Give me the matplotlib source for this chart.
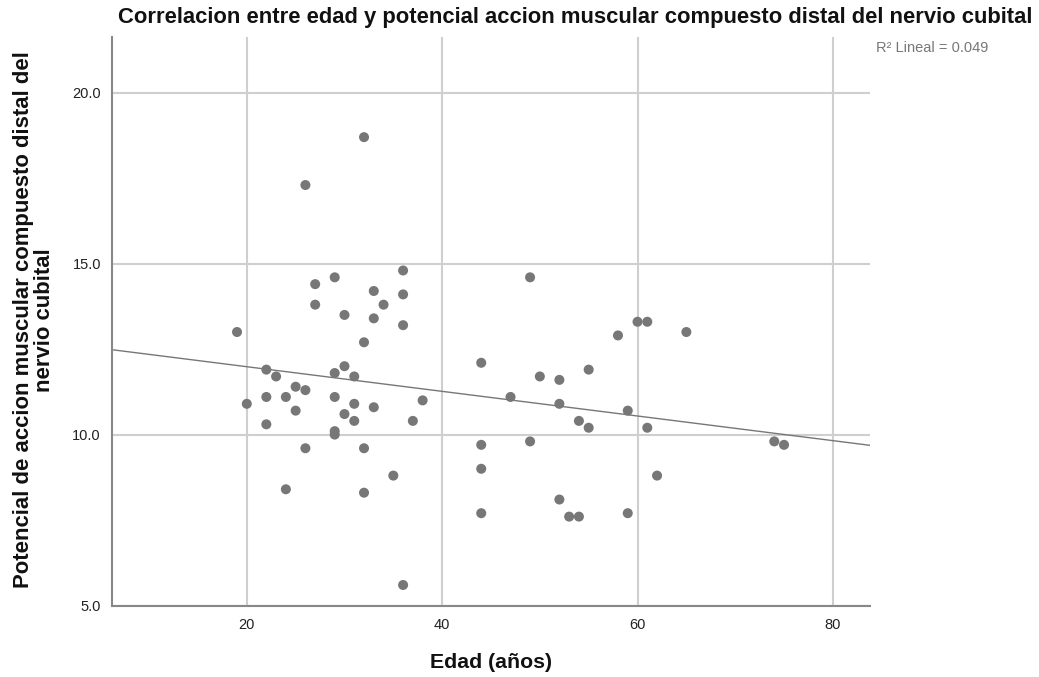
import numpy as np
import matplotlib
matplotlib.use("Agg")
import matplotlib.pyplot as plt

plt.rcParams['font.family'] = ['Liberation Sans', 'DejaVu Sans']

# edad (años) y potencial de accion muscular compuesto distal (mV)
edad = [32, 26, 36, 29, 27, 33, 36, 27, 34, 30, 33, 36, 19, 32,
        22, 23, 30, 29, 31, 25, 26, 22, 24, 29, 38, 20, 31, 33,
        25, 30, 31, 37, 22, 29, 29, 26, 32, 35, 24, 32, 36,
        49, 60, 61, 58, 65, 44, 50, 52, 55, 47, 52, 59, 54, 55,
        61, 44, 49, 74, 75, 44, 62, 52, 44, 53, 54, 59]
potencial = [18.7, 17.3, 14.8, 14.6, 14.4, 14.2, 14.1, 13.8, 13.8, 13.5, 13.4, 13.2, 13.0, 12.7,
             11.9, 11.7, 12.0, 11.8, 11.7, 11.4, 11.3, 11.1, 11.1, 11.1, 11.0, 10.9, 10.9, 10.8,
             10.7, 10.6, 10.4, 10.4, 10.3, 10.1, 10.0, 9.6, 9.6, 8.8, 8.4, 8.3, 5.6,
             14.6, 13.3, 13.3, 12.9, 13.0, 12.1, 11.7, 11.6, 11.9, 11.1, 10.9, 10.7, 10.4, 10.2,
             10.2, 9.7, 9.8, 9.8, 9.7, 9.0, 8.8, 8.1, 7.7, 7.6, 7.6, 7.7]

x_ticks = [20, 40, 60, 80]
y_ticks = [5.0, 10.0, 15.0, 20.0]

x = np.array(edad, dtype=float)
y = np.array(potencial, dtype=float)
slope, intercept = np.polyfit(x, y, 1)
r2 = np.corrcoef(x, y)[0, 1] ** 2

fig = plt.figure(figsize=(10.39, 6.77), dpi=100)
ax = fig.add_axes([112 / 1039, 1 - 605.5 / 677, (870 - 112) / 1039, (605.5 - 37) / 677])

xmin, xmax = 6.2, 83.8
ax.set_xlim(xmin, xmax)
ax.set_ylim(5.0, 21.63)

ax.set_xticks(x_ticks)
ax.set_yticks(y_ticks)
ax.set_xticklabels([str(t) for t in x_ticks])
ax.set_yticklabels([f"{t:.1f}" for t in y_ticks])
ax.tick_params(length=0, labelsize=10.5, colors='#222222')
ax.tick_params(axis='x', pad=9)
ax.tick_params(axis='y', pad=8)

ax.grid(True, color='#cfcfcf', linewidth=1.5)
ax.set_axisbelow(True)
for side in ['top', 'right']:
    ax.spines[side].set_visible(False)
for side in ['left', 'bottom']:
    ax.spines[side].set_color('#888888')
    ax.spines[side].set_linewidth(1.5)

xs = np.array([xmin, xmax])
ax.plot(xs, intercept + slope * xs, color='#777777', linewidth=1.0, zorder=2)
ax.scatter(x, y, s=52, color='#777777', edgecolors='none', zorder=3)

fig.text(118 / 1039, 1 - 18 / 677, "Correlacion entre edad y potencial accion muscular compuesto distal del nervio cubital",
         ha='left', va='center', fontsize=15.8, fontweight='bold', color='#111111')
fig.text(876 / 1039, 1 - 48 / 677, f"R\u00b2 Lineal = {r2:.3f}", ha='left', va='center',
         fontsize=10.5, color='#777777')
fig.text(491 / 1039, 1 - 662 / 677, "Edad (años)", ha='center', va='center',
         fontsize=15.3, fontweight='bold', color='#111111')
fig.text(34 / 1039, 1 - 320 / 677, "Potencial de accion muscular compuesto distal del\nnervio cubital",
         ha='center', va='center', rotation=90, fontsize=15.9, fontweight='bold',
         color='#111111', linespacing=1.05)

fig.savefig("out.png", dpi=100)
